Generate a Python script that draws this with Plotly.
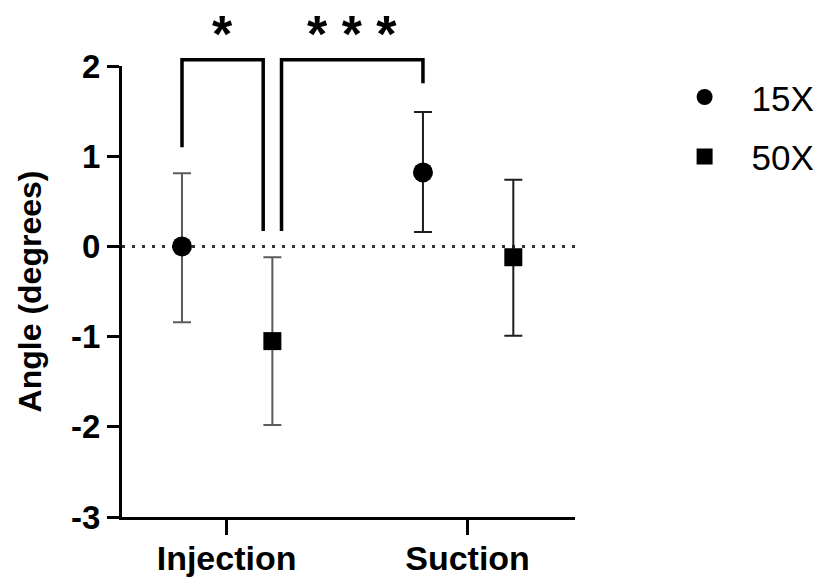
import plotly.graph_objects as go

# Angle measurements per condition and magnification
categories = ["Injection", "Suction"]
series_names = ["15X", "50X"]

mean_15x = [0.0, 0.82]
err_up_15x = [0.81, 0.67]
err_down_15x = [0.84, 0.66]

mean_50x = [-1.05, -0.12]
err_up_50x = [0.93, 0.86]
err_down_50x = [0.93, 0.87]

y_ticks = [2, 1, 0, -1, -2, -3]
Y_RANGE = [-3, 2]

# significance brackets: (left series, left category, right series, right category, label)
comparisons = [
    ("15X", "Injection", "50X", "Injection", "*"),
    ("50X", "Injection", "15X", "Suction", "* * *"),
]
bracket_leg_ends = [(1.1, 0.17), (0.17, 1.81)]

FONT = "Liberation Sans, Arial, sans-serif"
OFFSETS = {"15X": -0.185, "50X": 0.19}
SYMBOLS = {"15X": "circle", "50X": "square"}
SIZES = {"15X": 20, "50X": 18}
ERR_COLORS = {"Injection": "#5c5c5c", "Suction": "#1e1e1e"}

data = {
    "15X": (mean_15x, err_up_15x, err_down_15x),
    "50X": (mean_50x, err_up_50x, err_down_50x),
}


def to_paper_y(v):
    """Map a y data value to paper coordinates so brackets can sit above the axis."""
    return (v - Y_RANGE[0]) / (Y_RANGE[1] - Y_RANGE[0])


fig = go.Figure()
cat_pos = {c: i for i, c in enumerate(categories)}

for name in series_names:
    means, ups, downs = data[name]
    for ci, cat in enumerate(categories):
        fig.add_trace(go.Scatter(
            x=[cat_pos[cat] + OFFSETS[name]],
            y=[means[ci]],
            mode="markers",
            name=name,
            legendgroup=name,
            showlegend=(ci == 0),
            marker=dict(symbol=SYMBOLS[name], size=SIZES[name], color="black"),
            error_y=dict(type="data", symmetric=False, array=[ups[ci]],
                         arrayminus=[downs[ci]], color=ERR_COLORS[cat],
                         thickness=2, width=9),
        ))

# dotted zero reference line
fig.add_shape(type="line", xref="paper", yref="y", x0=0, x1=1, y0=0, y1=0,
              line=dict(color="#333333", width=3, dash="3px,7px"), layer="below")

# significance brackets
LEG_PAD = 0.038
bracket_top = 2.07
for (s1, c1, s2, c2, label), bottoms in zip(comparisons, bracket_leg_ends):
    x1 = cat_pos[c1] + OFFSETS[s1]
    x2 = cat_pos[c2] + OFFSETS[s2]
    if s1 == "50X" and c1 == "Injection":
        x1 += LEG_PAD
    if s2 == "50X" and c2 == "Injection":
        x2 -= LEG_PAD
    yb1, yt, yb2 = to_paper_y(bottoms[0]), to_paper_y(bracket_top), to_paper_y(bottoms[1])
    fig.add_shape(type="path", xref="x", yref="paper",
                  path=f"M {x1},{yb1} L {x1},{yt} L {x2},{yt} L {x2},{yb2}",
                  line=dict(color="black", width=3.5))
    fig.add_annotation(x=(x1 + x2) / 2, y=to_paper_y(2.36), text=label, showarrow=False,
                       font=dict(family=FONT, size=52, color="black", weight="bold"),
                       xref="x", yref="paper", yanchor="middle")

fig.update_layout(
    width=822, height=579,
    margin=dict(l=122, r=247, t=66, b=62),
    paper_bgcolor="white", plot_bgcolor="white",
    font=dict(family=FONT, color="black"),
    showlegend=True,
    legend=dict(xref="container", yref="container", x=0.8, y=0.883,
                xanchor="left", yanchor="top",
                font=dict(family=FONT, size=35, color="black"),
                itemwidth=84, tracegroupgap=11, traceorder="grouped",
                bgcolor="rgba(0,0,0,0)"),
)

fig.update_xaxes(
    range=[-0.434, 1.446], tickvals=list(cat_pos.values()), ticktext=categories,
    showline=True, linecolor="black", linewidth=3, ticks="outside", ticklen=15,
    tickwidth=3, tickcolor="black", showgrid=False, zeroline=False, automargin=False,
    ticklabelstandoff=-6,
    tickfont=dict(family=FONT, size=34, color="black", weight="bold"),
)
fig.update_yaxes(
    range=Y_RANGE, tickvals=y_ticks, ticktext=[str(t) for t in y_ticks],
    showline=True, linecolor="black", linewidth=3, ticks="outside", ticklen=12,
    tickwidth=3, tickcolor="black", showgrid=False, zeroline=False, automargin=False,
    tickfont=dict(family=FONT, size=33, color="black", weight="bold"),
    title=dict(text="Angle (degrees)", standoff=20,
               font=dict(family=FONT, size=32, color="black", weight="bold")),
)

fig.write_html("out.html")
